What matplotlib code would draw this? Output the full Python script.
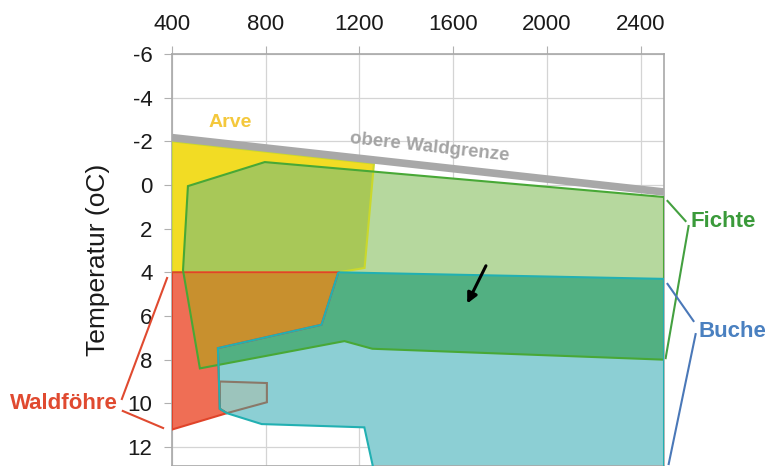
import matplotlib
matplotlib.use('Agg')
import matplotlib.pyplot as plt
from matplotlib.patches import Polygon

plt.rcParams['font.family'] = ['Liberation Sans', 'DejaVu Sans']
plt.rcParams['axes.unicode_minus'] = False

# obere Waldgrenze (grauer Balken)
waldgrenze_x = [400, 2500]
waldgrenze_y = [-2.17, 0.32]

# Verbreitungsgebiete (Hoehe m, Temperatur oC)
arve_x = [400, 1262, 1222, 1110, 400]
arve_y = [-2.0, -0.98, 3.8, 4.0, 4.0]

fichte_x = [468, 796, 2500, 2500, 1255, 1136, 519, 447]
fichte_y = [0.05, -1.05, 0.55, 8.0, 7.5, 7.15, 8.4, 3.9]

foehre_x = [400, 1110, 1038, 596, 604, 634, 400]
foehre_y = [4.0, 4.0, 6.4, 7.47, 10.25, 10.45, 11.2]

buche_x = [1110, 2500, 2500, 1270, 1221, 783, 634, 604, 596, 1038]
buche_y = [4.0, 4.3, 13.5, 13.5, 11.1, 10.95, 10.45, 10.25, 7.47, 6.4]

box_x = [604, 805, 805, 634, 604]
box_y = [9.0, 9.07, 9.95, 10.45, 10.25]

pfeil_start = (1740, 3.7)
pfeil_ende = (1660, 5.43)

x_ticks = [400, 800, 1200, 1600, 2000, 2400]
y_ticks = [-6, -4, -2, 0, 2, 4, 6, 8, 10, 12]


def poly(xs, ys, **kw):
    p = Polygon(list(zip(xs, ys)), closed=True, **kw)
    ax.add_patch(p)
    return p


fig = plt.figure(figsize=(7.65, 4.66), dpi=100)
ax = fig.add_axes([172 / 765, 0.0, 492 / 765, 412 / 466])

ax.set_xlim(400, 2500)
ax.set_ylim(12.87, -6)

# flaechen
fichte = poly(fichte_x, fichte_y, facecolor='#b6d89e', edgecolor='none', zorder=1)
poly(arve_x, arve_y, facecolor='#f2dc24', edgecolor='none', zorder=2)
poly(arve_x, arve_y, facecolor='#a8c858', edgecolor='none', zorder=3).set_clip_path(fichte)
poly(foehre_x, foehre_y, facecolor='#ef6e55', edgecolor='none', zorder=2)
poly(foehre_x, foehre_y, facecolor='#c8902e', edgecolor='none', zorder=3).set_clip_path(fichte)
poly(buche_x, buche_y, facecolor='#8ccfd4', edgecolor='none', zorder=2)
poly(buche_x, buche_y, facecolor='#52b082', edgecolor='none', zorder=3).set_clip_path(fichte)
poly(box_x, box_y, facecolor='#9cc4bc', edgecolor='#8a7868', lw=1.5, zorder=4)

# umrisse
poly(arve_x, arve_y, fill=False, edgecolor='#cad82c', lw=1.5, zorder=5)
poly(foehre_x, foehre_y, fill=False, edgecolor='#e0442a', lw=1.5, zorder=5)
poly(fichte_x, fichte_y, fill=False, edgecolor='#48a836', lw=1.5, zorder=6)
poly(buche_x, buche_y, fill=False, edgecolor='#22b0b2', lw=1.5, zorder=7)

ax.plot(waldgrenze_x, waldgrenze_y, color='#a8a8a8', lw=5.5,
        solid_capstyle='butt', zorder=8)

ax.annotate('', xy=pfeil_ende, xytext=pfeil_start, zorder=9,
            arrowprops=dict(arrowstyle='-|>,head_length=0.6,head_width=0.3',
                            color='black', lw=2.2, shrinkA=0, shrinkB=0))

# achsen
ax.xaxis.tick_top()
ax.set_xticks(x_ticks)
ax.set_yticks(y_ticks)
ax.grid(True, color='#d4d4d4', lw=0.9)
ax.set_axisbelow(True)
ax.tick_params(axis='both', direction='out', length=6, color='#b0b0b0',
               labelsize=16, labelcolor='#1a1a1a', pad=8)
for s in ax.spines.values():
    s.set_color('#a8a8a8')
    s.set_linewidth(1.2)

ax.set_ylabel('Temperatur (oC)', fontsize=19, color='#1a1a1a')
ax.yaxis.set_label_coords(-0.126, 0.5)

# beschriftungen
ax.text(648, -2.84, 'Arve', color='#f4c83c', fontsize=14, fontweight='bold',
        ha='center', va='center', zorder=10)
ax.text(1498, -1.74, 'obere Waldgrenze', color='#a4a4a4', fontsize=13.5,
        fontweight='bold', ha='center', va='center', rotation=-6.3, zorder=10)
ax.text(2614, 1.65, 'Fichte', color='#3a9a3a', fontsize=16, fontweight='bold',
        ha='left', va='center', clip_on=False)
ax.text(2648, 6.69, 'Buche', color='#4a80c0', fontsize=16, fontweight='bold',
        ha='left', va='center', clip_on=False)
ax.text(169, 10.03, 'Waldföhre', color='#e04a30', fontsize=16, fontweight='bold',
        ha='right', va='center', clip_on=False)

# klammern
ax.plot([2515, 2592], [0.73, 1.65], color='#44a040', lw=1.5, clip_on=False)
ax.plot([2605, 2507], [1.88, 7.93], color='#44a040', lw=1.5, clip_on=False)
ax.plot([2515, 2626], [4.53, 6.23], color='#4a78b8', lw=1.5, clip_on=False)
ax.plot([2635, 2520], [6.83, 12.78], color='#4a78b8', lw=1.5, clip_on=False)
ax.plot([379, 186], [4.26, 9.8], color='#e04a30', lw=1.5, clip_on=False)
ax.plot([190, 362], [10.35, 11.13], color='#e04a30', lw=1.5, clip_on=False)

fig.savefig('out.png', dpi=100)
